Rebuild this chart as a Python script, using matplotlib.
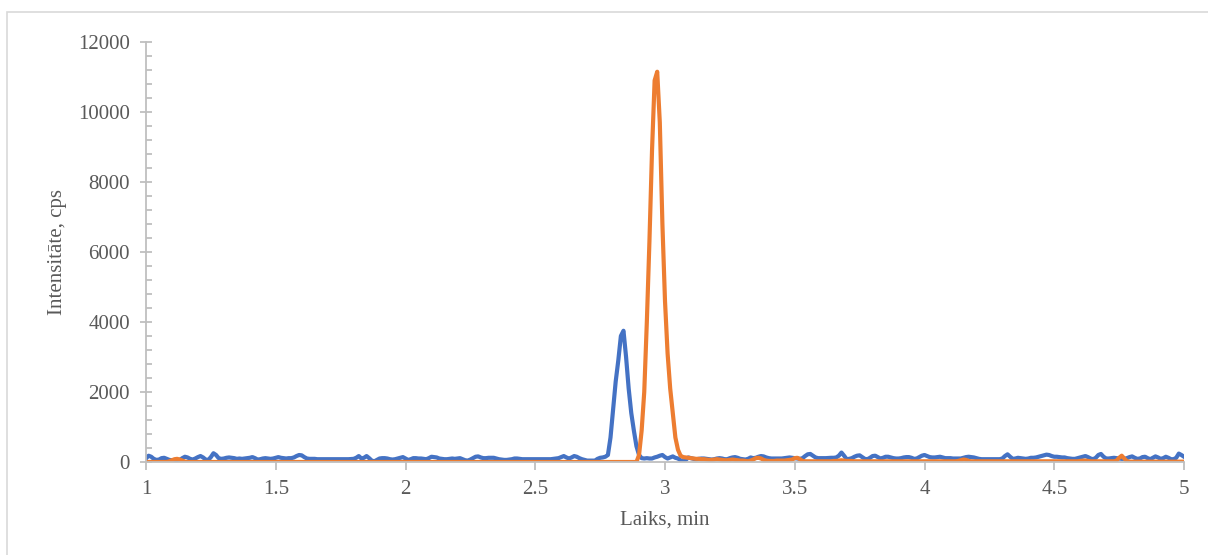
import numpy as np
import matplotlib.pyplot as plt
from matplotlib.patches import Rectangle
from matplotlib.ticker import MultipleLocator, FuncFormatter

# retention time grid, min (0.01 min step)
time = np.round(np.linspace(1.0, 5.0, 401), 2)

# blue trace, cps
blue = [
    100, 180, 150, 90, 60, 70, 110, 120, 90, 60,
    50, 40, 30, 60, 110, 150, 130, 90, 70, 100,
    140, 170, 130, 70, 60, 140, 250, 200, 110, 90,
    100, 120, 130, 120, 110, 90, 100, 90, 100, 110,
    120, 140, 110, 70, 80, 100, 110, 100, 90, 100,
    120, 140, 120, 110, 100, 110, 110, 130, 170, 200,
    190, 140, 100, 90, 90, 90, 80, 80, 80, 80,
    80, 80, 80, 80, 80, 80, 80, 80, 80, 85,
    90, 120, 170, 100, 120, 170, 110, 40, 20, 60,
    100, 110, 110, 100, 80, 70, 80, 100, 120, 140,
    100, 60, 80, 110, 110, 100, 100, 90, 80, 110,
    150, 140, 130, 100, 90, 80, 80, 90, 100, 90,
    100, 110, 80, 50, 40, 70, 110, 150, 160, 130,
    110, 110, 120, 120, 120, 100, 80, 70, 60, 60,
    70, 80, 100, 100, 90, 80, 80, 80, 80, 80,
    80, 80, 80, 80, 80, 80, 80, 90, 100, 110,
    140, 170, 130, 100, 130, 170, 150, 110, 80, 60,
    40, 40, 40, 40, 90, 120, 130, 150, 200, 700,
    1500, 2300, 2900, 3600, 3750, 3000, 2100, 1400, 900, 450,
    200, 110, 100, 110, 100, 100, 130, 150, 180, 200,
    140, 100, 130, 160, 120, 100, 50, 10, 60, 130,
    110, 90, 80, 90, 100, 100, 90, 80, 70, 80,
    100, 110, 100, 80, 80, 110, 130, 140, 120, 90,
    80, 70, 90, 130, 110, 120, 150, 170, 160, 130,
    110, 100, 100, 100, 100, 100, 110, 120, 130, 120,
    110, 100, 90, 110, 170, 220, 230, 180, 130, 110,
    110, 110, 110, 115, 120, 120, 130, 180, 270, 180,
    80, 90, 110, 150, 180, 190, 140, 90, 80, 120,
    170, 180, 140, 100, 120, 150, 150, 130, 110, 100,
    100, 110, 130, 140, 140, 120, 90, 100, 140, 180,
    200, 170, 140, 130, 130, 140, 150, 130, 110, 110,
    110, 100, 100, 100, 100, 120, 140, 150, 140, 130,
    110, 90, 80, 80, 80, 80, 80, 80, 80, 80,
    100, 170, 220, 150, 90, 100, 120, 110, 100, 90,
    100, 120, 120, 130, 150, 170, 190, 210, 200, 170,
    150, 150, 140, 130, 130, 110, 100, 90, 90, 110,
    130, 150, 170, 140, 100, 80, 120, 200, 230, 150,
    100, 100, 110, 120, 110, 100, 90, 90, 110, 140,
    160, 120, 90, 100, 140, 150, 110, 80, 120, 160,
    130, 90, 110, 150, 120, 80, 80, 120, 240, 200,
    150,
]

# orange trace, cps
orange = [
    0, 0, 0, 0, 0, 0, 0, 0, 0, 20,
    50, 80, 90, 70, 40, 10, 0, 0, 0, 0,
    0, 0, 0, 0, 0, 0, 0, 0, 0, 0,
    0, 0, 0, 0, 0, 0, 0, 0, 0, 0,
    0, 0, 0, 0, 0, 0, 0, 0, 0, 0,
    0, 0, 0, 0, 0, 0, 0, 0, 0, 0,
    0, 0, 0, 0, 0, 0, 0, 0, 0, 0,
    0, 0, 0, 0, 0, 0, 0, 0, 0, 0,
    0, 0, 0, 0, 0, 0, 0, 0, 0, 0,
    0, 0, 0, 0, 0, 0, 0, 0, 0, 0,
    0, 0, 0, 0, 0, 0, 0, 0, 0, 0,
    0, 0, 0, 0, 0, 0, 0, 0, 0, 0,
    0, 0, 0, 0, 0, 0, 0, 0, 0, 0,
    0, 0, 0, 0, 0, 0, 0, 0, 0, 0,
    0, 0, 0, 0, 0, 0, 0, 0, 0, 0,
    0, 0, 0, 0, 0, 0, 0, 0, 0, 0,
    0, 0, 0, 0, 0, 0, 0, 0, 0, 0,
    0, 0, 0, 0, 0, 0, 0, 0, 0, 0,
    0, 0, 0, 0, 0, 0, 0, 0, 0, 0,
    200, 900, 2000, 4000, 6300, 8900, 10900, 11150, 9700, 6800,
    4600, 3100, 2100, 1400, 700, 350, 180, 140, 130, 120,
    110, 100, 90, 90, 80, 80, 70, 60, 60, 70,
    80, 70, 60, 50, 50, 60, 70, 60, 50, 40,
    40, 30, 20, 40, 70, 110, 120, 100, 60, 40,
    30, 30, 30, 40, 40, 40, 40, 50, 60, 70,
    110, 120, 80, 30, 20, 20, 20, 20, 20, 20,
    20, 20, 20, 20, 20, 30, 30, 40, 50, 40,
    30, 30, 30, 20, 20, 20, 20, 20, 20, 20,
    20, 20, 20, 20, 20, 20, 20, 20, 20, 20,
    20, 20, 20, 20, 20, 20, 20, 20, 20, 20,
    20, 20, 20, 20, 20, 20, 20, 20, 20, 20,
    20, 20, 20, 30, 50, 70, 60, 30, 20, 20,
    20, 20, 20, 20, 20, 20, 20, 20, 20, 20,
    20, 20, 20, 20, 20, 20, 20, 20, 20, 20,
    20, 20, 20, 20, 20, 20, 20, 20, 20, 20,
    20, 20, 20, 20, 20, 20, 20, 20, 20, 20,
    30, 40, 40, 30, 20, 20, 20, 20, 20, 20,
    20, 20, 20, 20, 40, 120, 180, 100, 20, 10,
    10, 10, 10, 10, 10, 10, 10, 10, 10, 10,
    10, 10, 10, 10, 10, 10, 10, 10, 10, 10,
    10,
]

plt.rcParams['font.family'] = ['Liberation Serif', 'DejaVu Serif']

fig = plt.figure(figsize=(12.08, 5.55), dpi=100)
ax = fig.add_axes([146 / 1208, 93 / 555, 1038 / 1208, 420 / 555])

ax.plot(time, blue, color='#4472C4', lw=3, solid_joinstyle='round')
ax.plot(time, orange, color='#ED7D31', lw=3, solid_joinstyle='round')

ax.set_xlim(1, 5)
ax.set_ylim(0, 12000)
ax.xaxis.set_major_locator(MultipleLocator(0.5))
ax.xaxis.set_major_formatter(FuncFormatter(lambda v, p: '{:g}'.format(v)))
ax.yaxis.set_major_locator(MultipleLocator(2000))
ax.yaxis.set_minor_locator(MultipleLocator(400))

grey = '#BFBFBF'
for s in ['top', 'right']:
    ax.spines[s].set_visible(False)
for s in ['left', 'bottom']:
    ax.spines[s].set_color(grey)
    ax.spines[s].set_linewidth(1.3)

ax.tick_params(axis='x', which='major', direction='out', length=6, width=1.3,
               color=grey, labelsize=15, labelcolor='#595959', pad=7)
ax.tick_params(axis='y', which='major', direction='inout', length=9, width=1.3,
               color=grey, labelsize=15, labelcolor='#595959', pad=7)
ax.tick_params(axis='y', which='minor', direction='in', length=4.5, width=1.3,
               color=grey)

ax.set_xlabel('Laiks, min', fontsize=15, color='#595959', labelpad=8)
ax.set_ylabel('Intensitāte, cps', fontsize=15, color='#595959', labelpad=8)

fig.patches.append(Rectangle((7 / 1208, -0.1), 1.2, (555 - 12) / 555 + 0.1,
                             transform=fig.transFigure, fill=False,
                             edgecolor='#D9D9D9', lw=1.2))

fig.savefig('out.png', dpi=100)
